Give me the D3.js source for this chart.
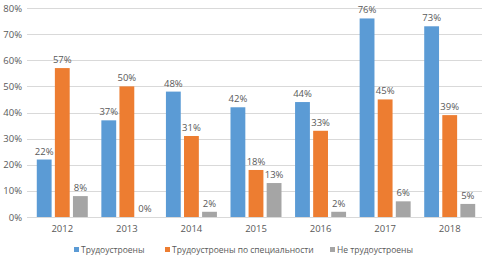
<!DOCTYPE html>
<html>
<head>
<meta charset="utf-8">
<script src="https://cdn.jsdelivr.net/npm/d3@7"></script>
<style>
  body { margin: 0; background: #fff; }
  text { font-family: "Open Sans", "DejaVu Sans", sans-serif; }
</style>
</head>
<body>
<div id="chart"></div>
<script>
// Chart data
var years = ["2012", "2013", "2014", "2015", "2016", "2017", "2018"];
var employed = [22, 37, 48, 42, 44, 76, 73];
var employedBySpecialty = [57, 50, 31, 18, 33, 45, 39];
var notEmployed = [8, 0, 2, 13, 2, 6, 5];
var seriesNames = ["Трудоустроены", "Трудоустроены по специальности", "Не трудоустроены"];
var yTicks = [0, 10, 20, 30, 40, 50, 60, 70, 80];

var seriesColors = ["#5B9BD5", "#ED7D31", "#A5A5A5"];
var allSeries = [employed, employedBySpecialty, notEmployed];

var width = 485, height = 262;
var plotLeft = 30, plotRight = 482, plotTop = 8, plotBottom = 217;

var svg = d3.select("#chart").append("svg")
    .attr("width", width)
    .attr("height", height);

var x = d3.scaleBand().domain(years).range([plotLeft, plotRight]);
var y = d3.scaleLinear().domain([0, 80]).range([plotBottom, plotTop]);

// inner band for the three bars of a year
var groupWidth = 51;
var xInner = d3.scaleBand()
    .domain(d3.range(allSeries.length))
    .range([0, groupWidth])
    .paddingInner(0.18);

// Gridlines
svg.append("g")
    .selectAll("line")
    .data(yTicks)
    .enter()
    .append("line")
    .attr("x1", 27)
    .attr("x2", plotRight)
    .attr("y1", d => Math.round(y(d)) + 0.5)
    .attr("y2", d => Math.round(y(d)) + 0.5)
    .attr("stroke", "#D9D9D9")
    .attr("stroke-width", 1);

// Y axis labels
svg.append("g")
    .selectAll("text")
    .data(yTicks)
    .enter()
    .append("text")
    .attr("x", 22)
    .attr("y", d => y(d) + 3.5)
    .attr("text-anchor", "end")
    .attr("font-size", "9.5px")
    .attr("fill", "#595959")
    .text(d => d + "%");

// X axis labels
svg.append("g")
    .selectAll("text")
    .data(years)
    .enter()
    .append("text")
    .attr("x", d => x(d) + x.bandwidth() / 2)
    .attr("y", 232)
    .attr("text-anchor", "middle")
    .attr("font-size", "9.5px")
    .attr("fill", "#595959")
    .text(d => d);

// Bars and value labels
allSeries.forEach(function (values, s) {
    var g = svg.append("g");
    var rows = years.map((yr, i) => ({ year: yr, value: values[i] }));
    var offset = d => x(d.year) + (x.bandwidth() - groupWidth) / 2 + xInner(s);

    g.selectAll("rect")
        .data(rows)
        .enter()
        .append("rect")
        .attr("x", offset)
        .attr("y", d => y(d.value))
        .attr("width", xInner.bandwidth())
        .attr("height", d => y(0) - y(d.value))
        .attr("fill", seriesColors[s]);

    g.selectAll("text")
        .data(rows)
        .enter()
        .append("text")
        .attr("x", d => offset(d) + xInner.bandwidth() / 2)
        .attr("y", d => y(d.value) - 5)
        .attr("text-anchor", "middle")
        .attr("font-size", "9.5px")
        .attr("fill", "#595959")
        .text(d => d.value + "%");
});

// Legend
var legendX = [74, 165, 330];
var legend = svg.append("g")
    .selectAll("g")
    .data(seriesNames)
    .enter()
    .append("g")
    .attr("transform", (d, i) => "translate(" + legendX[i] + ",250)");

legend.append("rect")
    .attr("x", 0)
    .attr("y", -3)
    .attr("width", 5)
    .attr("height", 5)
    .attr("fill", (d, i) => seriesColors[i]);

legend.append("text")
    .attr("x", 7)
    .attr("y", 2.5)
    .attr("font-size", "8.5px")
    .attr("fill", "#595959")
    .text(d => d);
</script>
</body>
</html>
